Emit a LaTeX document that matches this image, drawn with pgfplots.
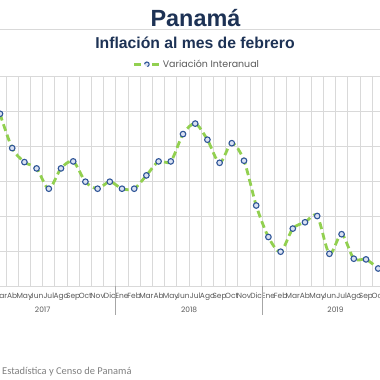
\documentclass[border=0pt]{standalone}
\usepackage{pgfplots}
\pgfplotsset{compat=1.18}
\usepackage{fontspec}
\setmainfont{Liberation Sans}
\newfontfamily\gothic{Poppins}
\newfontfamily\calib{Carlito}
\definecolor{navy}{HTML}{1D3255}
\definecolor{lgreen}{HTML}{92D050}
\definecolor{mkblue}{HTML}{2F5597}
\definecolor{mkfill}{HTML}{D9E1F2}
\definecolor{gridc}{HTML}{D9D9D9}
\definecolor{zeroc}{HTML}{A6A6A6}
\definecolor{txtc}{HTML}{595959}
\definecolor{srcc}{HTML}{808080}
\pgfplotstableread{
m y
2 1.46
3 0.97
4 0.77
5 0.68
6 0.39
7 0.68
8 0.78
9 0.49
10 0.39
11 0.49
12 0.39
13 0.39
14 0.58
15 0.78
16 0.78
17 1.17
18 1.32
19 1.09
20 0.76
21 1.04
22 0.79
23 0.15
24 -0.30
25 -0.51
26 -0.18
27 -0.09
28 0.00
29 -0.54
30 -0.26
31 -0.61
32 -0.62
33 -0.75
}\datatable
\begin{document}
\begin{tikzpicture}
\path[use as bounding box] (0bp,0bp) rectangle (380bp,380bp);
\clip (0bp,0bp) rectangle (380bp,380bp);
\node[font=\bfseries\fontsize{23.5}{24}\selectfont, text=navy, anchor=base] at (195.5bp,353.3bp) {Panamá};
\draw[gridc, line width=0.8bp] (0bp,350.7bp) -- (380bp,350.7bp);
\node[font=\bfseries\fontsize{15.8}{16}\selectfont, text=navy, anchor=base] at (195bp,331bp) {Inflación al mes de febrero};
\node[font=\calib\fontsize{10.5}{11}\selectfont, text=srcc, anchor=west, inner sep=0pt] at (2bp,8.3bp) {Estadística y Censo de Panamá};
\begin{axis}[
  at={(-30.5bp,94bp)}, anchor=south west,
  width=439.2bp, height=210bp, scale only axis,
  xmin=-0.5, xmax=35.5, ymin=-1, ymax=2,
  clip=false,
  axis line style={draw=none},
  ytick={-1,-0.5,...,2}, yticklabels={},
  ymajorgrids, major grid style={gridc, line width=0.8bp},
  xtick={0,...,35},
  xticklabels={Ene,Feb,Mar,Ab,May,Jun,Jul,Ago,Sep,Oct,Nov,Dic,Ene,Feb,Mar,Ab,May,Jun,Jul,Ago,Sep,Oct,Nov,Dic,Ene,Feb,Mar,Ab,May,Jun,Jul,Ago,Sep,Oct,Nov,Dic},
  major tick length=0pt, minor tick length=0pt,
  xticklabel style={font=\gothic\fontsize{7.5}{8}\selectfont, text=txtc, inner sep=0pt, yshift=-7bp},
  minor xtick={-0.5,0.5,...,35.5},
  xminorgrids, minor grid style={gridc, line width=0.8bp},
  extra y ticks={-1,0}, extra y tick labels={},
  extra y tick style={grid style={zeroc, line width=0.8bp}, major tick length=0pt},
  legend style={at={(0.518,1.0557)}, anchor=center, draw=none, fill=none,
    font=\gothic\fontsize{9.5}{10}\selectfont, text=txtc, inner sep=0pt},
  legend image code/.code={
    \draw[lgreen, line width=2.8bp] (0bp,0bp) -- (7bp,0bp);
    \draw[lgreen, line width=2.8bp] (18bp,0bp) -- (25bp,0bp);
    \draw[mkblue, fill=mkfill, line width=1.1bp] (12.5bp,0bp) circle (2.3bp);
  },
]
\addplot[lgreen, line width=2.8bp, dash pattern=on 7bp off 4bp, smooth, tension=0.5,
  mark=*, mark size=2.8bp, mark options={solid, draw=mkblue, fill=mkfill, line width=1.1bp}]
  table[x=m, y=y] {\datatable};
\addlegendentry{Variación Interanual}
\draw[zeroc, line width=0.8bp] (axis cs:11.5,-1) -- ([yshift=-29bp]axis cs:11.5,-1);
\draw[zeroc, line width=0.8bp] (axis cs:23.5,-1) -- ([yshift=-29bp]axis cs:23.5,-1);
\node[font=\gothic\fontsize{7.5}{8}\selectfont, text=txtc, anchor=base] at ([yshift=-27bp]axis cs:5.5,-1) {2017};
\node[font=\gothic\fontsize{7.5}{8}\selectfont, text=txtc, anchor=base] at ([yshift=-27bp]axis cs:17.5,-1) {2018};
\node[font=\gothic\fontsize{7.5}{8}\selectfont, text=txtc, anchor=base] at ([yshift=-27bp]axis cs:29.5,-1) {2019};
\end{axis}
\end{tikzpicture}
\end{document}
